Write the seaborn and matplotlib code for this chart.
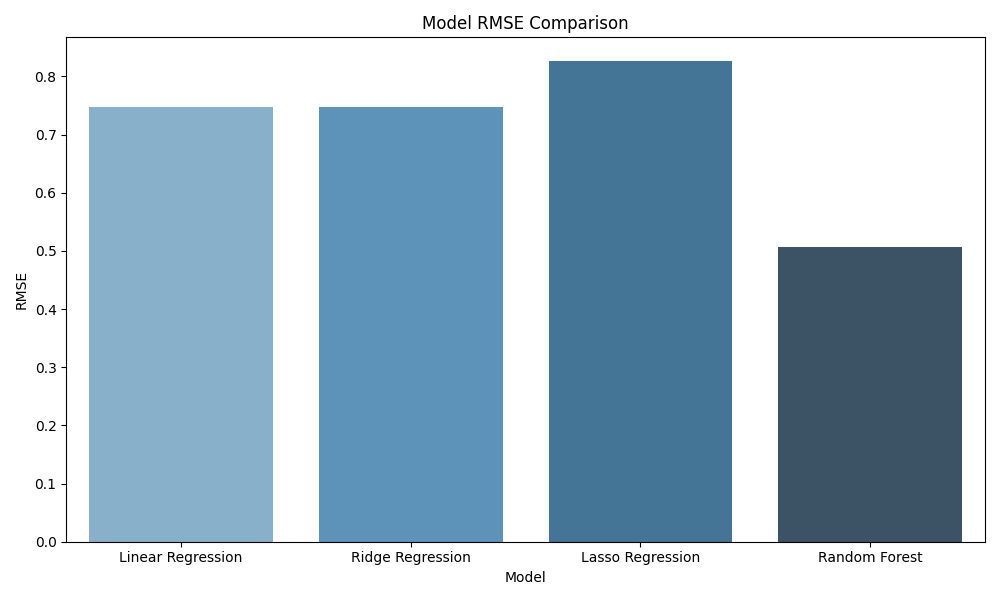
import pandas as pd
import matplotlib.pyplot as plt
import seaborn as sns

models = ["Linear Regression", "Ridge Regression", "Lasso Regression", "Random Forest"]
rmse = [0.7468, 0.7466, 0.8258, 0.5064]

df = pd.DataFrame({"Model": models, "RMSE": rmse})

plt.figure(figsize=(10, 6))
sns.barplot(data=df, x="Model", y="RMSE", hue="Model", palette="Blues_d", legend=False)
plt.title("Model RMSE Comparison")
plt.xlabel("Model")
plt.ylabel("RMSE")
plt.tight_layout()
plt.savefig("out.png", dpi=100)
